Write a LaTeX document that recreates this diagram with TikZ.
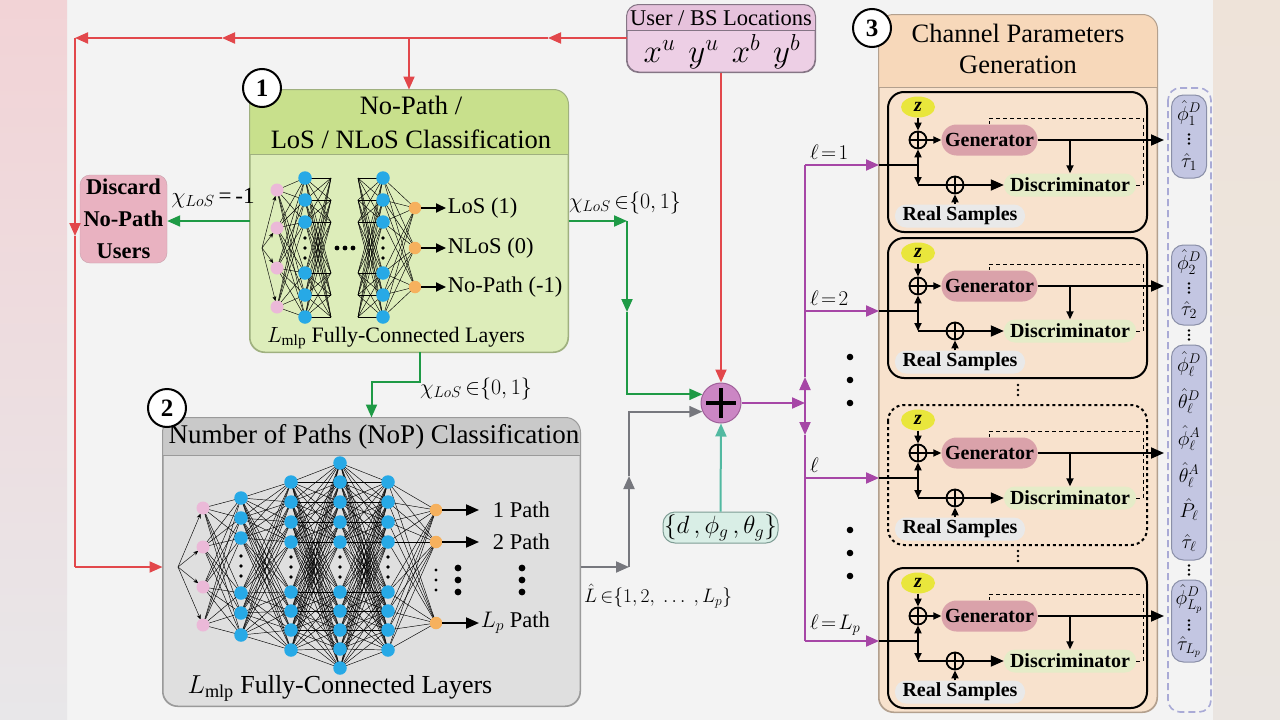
\RequirePackage{fix-cm}
\documentclass[tikz,border=0pt]{standalone}
\usepackage{fontspec}
\setmainfont{Liberation Serif}
\usetikzlibrary{arrows.meta,shapes.geometric,calc}
\definecolor{bgmain}{HTML}{F3F3F3}
\definecolor{leftTop}{HTML}{F2D3D6}
\definecolor{leftBot}{HTML}{E8E7E9}
\definecolor{rightTop}{HTML}{EEE3D9}
\definecolor{rightBot}{HTML}{EAE5E1}
\definecolor{redl}{HTML}{E2474B}
\definecolor{greenl}{HTML}{1E9A45}
\definecolor{grayl}{HTML}{76777D}
\definecolor{teall}{HTML}{52B9A1}
\definecolor{purpl}{HTML}{A646A6}
\definecolor{b1head}{HTML}{C8E08C}
\definecolor{b1body}{HTML}{DDEDBA}
\definecolor{b1edge}{HTML}{9FB07F}
\definecolor{b2head}{HTML}{C9C9C9}
\definecolor{b2body}{HTML}{DFDFDF}
\definecolor{b2edge}{HTML}{9A9A9A}
\definecolor{ushead}{HTML}{E6C2DC}
\definecolor{usbody}{HTML}{EDCFE5}
\definecolor{usedge}{HTML}{857585}
\definecolor{discfill}{HTML}{E9B2C1}
\definecolor{discedge}{HTML}{C9A0AB}
\definecolor{cphead}{HTML}{F7D8BA}
\definecolor{cpbody}{HTML}{F8E2CD}
\definecolor{cpedge}{HTML}{B3A08E}
\definecolor{nnpink}{HTML}{EBB9D8}
\definecolor{nnblue}{HTML}{27A9E6}
\definecolor{nnorange}{HTML}{F6B15E}
\definecolor{genfill}{HTML}{DAA2AA}
\definecolor{disfill}{HTML}{E5ECC8}
\definecolor{realfill}{HTML}{E9E9E9}
\definecolor{zfill}{HTML}{E9E63C}
\definecolor{capfill}{HTML}{C3C6E2}
\definecolor{capedge}{HTML}{8A8FA8}
\definecolor{outdash}{HTML}{A9AAD6}
\definecolor{plusfill}{HTML}{CB86C4}
\definecolor{plusedge}{HTML}{A0609A}
\definecolor{dfill}{HTML}{D9EEE6}
\definecolor{dedge}{HTML}{7E9C94}
\tikzset{
  bigtip/.tip={Triangle[length=13pt,width=11pt]},
  smalltip/.tip={Triangle[length=8pt,width=7pt]},
  midtip/.tip={Triangle[length=10pt,width=9pt]},
  redln/.style={draw=redl,line width=2pt},
  greenln/.style={draw=greenl,line width=2pt},
  grayln/.style={draw=grayl,line width=2pt},
  tealln/.style={draw=teall,line width=2pt},
  purpln/.style={draw=purpl,line width=2pt},
  nnline/.style={draw=black,line width=0.45pt},
  pinkn/.style={circle,fill=nnpink,minimum size=13,inner sep=0},
  bluen/.style={circle,fill=nnblue,minimum size=13.5,inner sep=0},
  orangen/.style={circle,fill=nnorange,minimum size=12.5,inner sep=0},
  numc/.style={circle,draw=black,line width=2pt,fill=white,minimum size=38,inner sep=0,font=\bfseries\fontsize{25}{25}\selectfont},
  ganln/.style={draw=black,line width=1.8pt},
  gandash/.style={draw=black,line width=1pt,dash pattern=on 4pt off 3pt},
  ganborder/.style={draw=black,line width=2pt,rounded corners=16},
  oplusn/.style={circle,draw=black,line width=1.8pt,minimum size=17,inner sep=0},
  zell/.style={ellipse,fill=zfill,minimum width=34,minimum height=21,inner sep=0,font=\bfseries\itshape\fontsize{20}{20}\selectfont},
  genbox/.style={rounded corners=15,fill=genfill,minimum width=96,minimum height=31,inner sep=0,font=\bfseries\fontsize{20}{22}\selectfont},
  disbox/.style={rounded corners=11,fill=disfill,minimum width=132,minimum height=23,inner sep=0,font=\bfseries\fontsize{20}{22}\selectfont},
  realbox/.style={rounded corners=11,fill=realfill,minimum width=130,minimum height=23,inner sep=0,font=\bfseries\fontsize{20}{22}\selectfont},
  capsule/.style={draw=capedge,fill=capfill,rounded corners=12,minimum width=35,inner sep=0,line width=1pt},
  capt/.style={inner sep=0,font=\fontsize{20}{20}\selectfont},
  lab/.style={inner sep=1,font=\fontsize{22.5}{24}\selectfont},
}
\newcommand\vdotsat[3]{\fill (#1,#2-#3) circle (1.3) (#1,#2) circle (1.3) (#1,#2+#3) circle (1.3);}
\begin{document}
\begin{tikzpicture}[x=1pt,y=-1pt]
% background
\fill[bgmain] (0,0) rectangle (1280,720);
\shade[top color=leftTop,bottom color=leftBot] (0,0) rectangle (67,720);
\shade[top color=rightTop,bottom color=rightBot] (1213,0) rectangle (1280,720);
\useasboundingbox (0,0) rectangle (1280,720);

% ---------- User / BS box
\node[draw=usedge,fill=usbody,rounded corners=12,minimum width=188,minimum height=67,inner sep=0,line width=1pt] (user) at (721,38.5) {};
\begin{scope}
\clip[rounded corners=12] (user.south west) rectangle (user.north east);
\fill[ushead] (user.north west) rectangle ($(user.north east)+(0,26)$);
\end{scope}
\draw[usedge,line width=1pt] ($(user.north west)+(0,26)$) -- ($(user.north east)+(0,26)$);
\draw[usedge,line width=1pt,rounded corners=12] (user.south west) rectangle (user.north east);
\node[inner sep=0,font=\fontsize{22.5}{24}\selectfont] (usert) at (721,18) {User / BS Locations};
\node[inner sep=0,font=\fontsize{33}{33}\selectfont] (userm) at (722,52) {$x^u\hspace{13pt}y^u\hspace{13pt}x^b\hspace{13pt}y^b$};

% ---------- Box 1
\node[draw=b1edge,fill=b1body,rounded corners=15,minimum width=318,minimum height=262,inner sep=0,line width=1pt] (box1) at (409,221) {};
\begin{scope}
\clip[rounded corners=15] (box1.south west) rectangle (box1.north east);
\fill[b1head] (box1.north west) rectangle ($(box1.north east)+(0,65)$);
\end{scope}
\draw[b1edge,line width=1pt] ($(box1.north west)+(0,65)$) -- ($(box1.north east)+(0,65)$);
\draw[b1edge,line width=1pt,rounded corners=15] (box1.south west) rectangle (box1.north east);
\node[align=center,inner sep=0,font=\fontsize{26.5}{34}\selectfont] (t1) at (411,122) {No-Path /\\LoS / NLoS Classification};

% net 1
\coordinate (fan1) at (262,248);
\foreach \y [count=\k] in {190,228,268,307} \coordinate (ip\k) at (277,\y);
\foreach \y [count=\k] in {178,200,222,273,295,317} {
  \coordinate (ha\k) at (305,\y); \coordinate (hb\k) at (331,\y);
  \coordinate (hc\k) at (358,\y); \coordinate (hd\k) at (383,\y); }
\foreach \y [count=\k] in {208,248,287} \coordinate (oo\k) at (415,\y);
\foreach \a in {1,...,4} \foreach \b in {1,...,6} \draw[nnline] (ip\a) -- (ha\b);
\foreach \a in {1,...,6} \foreach \b in {1,...,6} { \draw[nnline] (ha\a) -- (hb\b); \draw[nnline] (hc\a) -- (hd\b); }
\foreach \a in {1,...,6} \foreach \b in {1,2,3} \draw[nnline] (hd\a) -- (oo\b);
\foreach \k in {1,...,4} \draw[nnline,-{Stealth[length=5pt,width=4pt]},shorten >=6pt] (fan1) -- (ip\k);
\foreach \k in {1,...,4} \node[pinkn] (nip\k) at (ip\k) {};
\foreach \k in {1,...,6} { \node[bluen] (nha\k) at (ha\k) {}; \node[bluen] (nhd\k) at (hd\k) {}; }
\foreach \k in {1,2,3} \node[orangen] (noo\k) at (oo\k) {};
\foreach \yy in {238,248,258} { \fill (305,\yy) circle (1.8); \fill (383,\yy) circle (1.8); }
\foreach \xx in {337,345,353} \fill (\xx,248) circle (2.4);
\draw[line width=1.8pt,-midtip] (noo1.east) -- (446,208) node[lab,anchor=west] (lb1) {LoS (1)};
\draw[line width=1.8pt,-midtip] (noo2.east) -- (446,248) node[lab,anchor=west] (lb2) {NLoS (0)};
\draw[line width=1.8pt,-midtip] (noo3.east) -- (446,287) node[lab,anchor=west] (lb3) {No-Path (-1)};
\node[inner sep=0,font=\fontsize{22}{24}\selectfont] (fc1) at (396,338) {$L_{\mathrm{mlp}}$ Fully-Connected Layers};

% ---------- Box 2
\node[draw=b2edge,fill=b2body,rounded corners=15,minimum width=417,minimum height=288,inner sep=0,line width=1pt] (box2) at (371.5,562) {};
\begin{scope}
\clip[rounded corners=15] (box2.south west) rectangle (box2.north east);
\fill[b2head] (box2.north west) rectangle ($(box2.north east)+(0,38)$);
\end{scope}
\draw[b2edge,line width=1pt] ($(box2.north west)+(0,38)$) -- ($(box2.north east)+(0,38)$);
\draw[b2edge,line width=1pt,rounded corners=15] (box2.south west) rectangle (box2.north east);
\node[inner sep=0,font=\fontsize{27}{28}\selectfont] (t2) at (374,437) {Number of Paths (NoP) Classification};

% net 2
\coordinate (fan2) at (178,567);
\foreach \y [count=\k] in {508,547,587,625} \coordinate (qp\k) at (203,\y);
\foreach \y [count=\k] in {498,518,538,593,613,635} \coordinate (qa\k) at (241,\y);
\foreach \y [count=\k] in {482,502,522,542,592,611,630,650} { \coordinate (qb\k) at (291,\y); \coordinate (qd\k) at (388,\y); }
\foreach \y [count=\k] in {463,482,502,522,542,592,611,630,649,668} \coordinate (qc\k) at (340,\y);
\foreach \y [count=\k] in {510,542,623} \coordinate (qo\k) at (436,\y);
\foreach \a in {1,...,4} \foreach \b in {1,...,6} \draw[nnline] (qp\a) -- (qa\b);
\foreach \a in {1,...,6} \foreach \b in {1,...,8} \draw[nnline] (qa\a) -- (qb\b);
\foreach \a in {1,...,8} \foreach \b in {1,...,10} { \draw[nnline] (qb\a) -- (qc\b); \draw[nnline] (qd\a) -- (qc\b); }
\foreach \a in {1,...,8} \foreach \b in {1,2,3} \draw[nnline] (qd\a) -- (qo\b);
\foreach \k in {1,...,4} \draw[nnline,-{Stealth[length=5pt,width=4pt]},shorten >=6pt] (fan2) -- (qp\k);
\foreach \k in {1,...,4} \node[pinkn] (nqp\k) at (qp\k) {};
\foreach \k in {1,...,6} \node[bluen] (nqa\k) at (qa\k) {};
\foreach \k in {1,...,8} { \node[bluen] (nqb\k) at (qb\k) {}; \node[bluen] (nqd\k) at (qd\k) {}; }
\foreach \k in {1,...,10} \node[bluen] (nqc\k) at (qc\k) {};
\foreach \k in {1,2,3} \node[orangen] (nqo\k) at (qo\k) {};
\foreach \yy in {556,566,576} \fill (241,\yy) circle (1.8);
\foreach \yy in {557,567,577} { \fill (291,\yy) circle (1.8); \fill (340,\yy) circle (1.8); \fill (388,\yy) circle (1.8); }
\foreach \yy in {570,580,590} \fill (436,\yy) circle (1.6);
\foreach \yy in {568,580,592} { \fill (458,\yy) circle (3.4); \fill (522,\yy) circle (3.4); }
\draw[line width=2pt,-bigtip] (nqo1.east) -- (479,510);
\draw[line width=2pt,-bigtip] (nqo2.east) -- (479,542);
\draw[line width=2pt,-bigtip] (nqo3.east) -- (479,623);
\node[lab,anchor=east] (p1) at (551,510) {1 Path};
\node[lab,anchor=east] (p2) at (551,542) {2 Path};
\node[lab,anchor=east] (p3) at (551,623) {$L_p$ Path};
\node[inner sep=0,font=\fontsize{26}{28}\selectfont] (fc2) at (340,688) {$L_{\mathrm{mlp}}$ Fully-Connected Layers};

% ---------- Discard box
\node[draw=discedge,fill=discfill,rounded corners=10,minimum width=87,minimum height=88,inner sep=0,align=center,font=\bfseries\fontsize{22.5}{32}\selectfont] (discard) at (123.5,219) {Discard\\No-Path\\Users};

% ---------- plus and parameter set
\node[circle,draw=plusedge,fill=plusfill,minimum size=40,inner sep=0,line width=1pt] (plus) at (721,403) {};
\draw[line width=4.5pt] ($(plus.center)+(-15,0)$) -- ($(plus.center)+(15,0)$);
\draw[line width=4.5pt] ($(plus.center)+(0,-15)$) -- ($(plus.center)+(0,15)$);
\node[draw=dedge,fill=dfill,rounded corners=12,minimum width=115,minimum height=31,inner sep=0,line width=1pt,font=\fontsize{25}{25}\selectfont] (dset) at (720.5,527.5) {$\{d\,,\phi_g\,,\theta_g\}$};

% ---------- red connectors
\coordinate (r1) at (548,38);
\coordinate (r2) at (222,38);
\coordinate (rc) at (75,38);
\coordinate (r3) at (75,236);
\coordinate (rb) at (75,567);
\draw[redln,-bigtip] (user.west |- rc) -- (r1);
\draw[redln,-bigtip] (r1) -- (r2);
\draw[redln,-bigtip] (r2) -- (rc);
\draw[redln,-bigtip] (rc) -- (r3);
\draw[redln] (r3) -- (rb);
\draw[redln,-bigtip] (rb) -- (box2.west |- rb);
\draw[redln,-bigtip] (box1.north |- rc) -- (box1.north);
\draw[redln,-bigtip] (user.south) -- (plus.north);

% ---------- green connectors
\coordinate (g1) at (627,221);
\coordinate (g2) at (627,312);
\draw[greenln,-bigtip] (box1.west) -- (discard.east |- box1.west);
\draw[greenln,-bigtip] (box1.east) -- (g1);
\draw[greenln,-bigtip] (g1) -- (g2);
\draw[greenln,-bigtip] (g2) |- (plus.155);
\coordinate (gb) at (420,352);
\draw[greenln,-bigtip] (gb) -- ++(0,30) -| (box2.north);

% ---------- gray connectors
\coordinate (q1) at (629,567);
\coordinate (q2) at (629,476);
\draw[grayln,-bigtip] (box2.east |- q1) -- (q1);
\draw[grayln,-bigtip] (q1) -- (q2);
\draw[grayln,-bigtip] (q2) |- (plus.205);

% ---------- teal
\draw[tealln,-bigtip] (dset.north) -- (plus.south);

% ---------- labels on connectors
\node[inner sep=0,font=\fontsize{23}{24}\selectfont] (chi1) at (213,198) {$\chi_{LoS}$\,=\,-1};
\node[inner sep=0,font=\fontsize{22}{24}\selectfont] (chi2) at (625,203) {$\chi_{LoS}\,{\in}\{0,1\}$};
\node[inner sep=0,font=\fontsize{22}{24}\selectfont] (chi3) at (476,389) {$\chi_{LoS}\,{\in}\{0,1\}$};
\node[inner sep=0,anchor=west,font=\fontsize{19.5}{22}\selectfont] (lhat) at (584,596) {$\hat{L}\,{\in}\{1,2,\ \dots\ ,L_p\}$};

% ---------- container 3
\node[draw=cpedge,fill=cpbody,rounded corners=15,minimum width=278,minimum height=697,inner sep=0,line width=1pt] (cont) at (1018,363.5) {};
\begin{scope}
\clip[rounded corners=15] (cont.south west) rectangle (cont.north east);
\fill[cphead] (cont.north west) rectangle ($(cont.north east)+(0,73)$);
\end{scope}
\draw[cpedge,line width=1pt] ($(cont.north west)+(0,73)$) -- ($(cont.north east)+(0,73)$);
\draw[cpedge,line width=1pt,rounded corners=15] (cont.south west) rectangle (cont.north east);
\node[align=center,inner sep=0,font=\fontsize{26.5}{31}\selectfont] (t3) at (1018,49) {Channel Parameters\\Generation};

% GAN blocks
\foreach \i/\o/\st in {1/0/solid,2/146/solid,3/313/dashed,4/476/solid}{
\begin{scope}[shift={(0,\o)}]
  \draw[ganborder,\st] (888,92) rectangle (1147,232);
  \node[zell] (z\i) at (918,107) {z};
  \node[oplusn] (oa\i) at (918,140) {};
  \node[genbox] (gen\i) at (989.5,140) {Generator};
  \node[oplusn] (ob\i) at (955,185) {};
  \node[disbox] (dis\i) at (1070,185) {Discriminator};
  \node[realbox] (real\i) at (960,216) {Real Samples};
  \coordinate (in\i) at (879,165);
  \coordinate (jn\i) at (918,165);
  \coordinate (dd\i) at (918,185);
  \coordinate (tap\i) at (1070,140);
  \coordinate (out\i) at (1164,140);
  \draw[ganln] (oa\i.north) -- (oa\i.south) (oa\i.west) -- (oa\i.east);
  \draw[ganln] (ob\i.north) -- (ob\i.south) (ob\i.west) -- (ob\i.east);
  \draw[ganln,-smalltip] (z\i.south) -- (oa\i.north);
  \draw[ganln,-smalltip] (oa\i.east) -- (gen\i.west);
  \draw[ganln,-bigtip] (gen\i.east) -- (out\i);
  \draw[ganln,-smalltip] (tap\i) -- (dis\i.north);
  \draw[ganln] (in\i) -- (jn\i);
  \draw[ganln,-smalltip] (jn\i) -- (oa\i.south);
  \draw[ganln,-smalltip] (jn\i) -- (dd\i);
  \draw[ganln] (dd\i) -- (ob\i.west);
  \draw[ganln,-bigtip] (ob\i.east) -- (dis\i.west);
  \draw[ganln,-smalltip] (ob\i.south |- real\i.north) -- (ob\i.south);
  \draw[gandash] (dis\i.east) -- (1143,185) -- (1143,118) -- (989,118) -- (989,124);
\end{scope}
}
\vdotsat{1018}{390}{5}
\vdotsat{1018}{556}{5}

% ---------- purple distribution
\coordinate (pv) at (805,403);
\coordinate (pu) at (805,377);
\coordinate (pd) at (805,435);
\coordinate (pt) at (805,165);
\coordinate (pb) at (805,641);
\draw[purpln,-bigtip] (plus.east) -- (pv);
\draw[purpln,-bigtip] (pv) -- (pu);
\draw[purpln] (pu) -- (pt);
\draw[purpln,-bigtip] (pv) -- (pd);
\draw[purpln] (pd) -- (pb);
\draw[purpln,-bigtip] (pt) -- (in1);
\draw[purpln,-bigtip] (pt |- in2) -- (in2);
\draw[purpln,-bigtip] (pt |- in3) -- (in3);
\draw[purpln,-bigtip] (pb) -- (in4);
\node[anchor=south west,inner sep=1,font=\fontsize{21}{22}\selectfont] (l1) at (809,161) {$\ell\!=\!1$};
\node[anchor=south west,inner sep=1,font=\fontsize{21}{22}\selectfont] (l2) at (809,307) {$\ell\!=\!2$};
\node[anchor=south west,inner sep=1,font=\fontsize{21}{22}\selectfont] (l3) at (809,474) {$\ell$};
\node[anchor=south west,inner sep=1,font=\fontsize{21}{22}\selectfont] (l4) at (809,637) {$\ell\!=\!L_p$};
\foreach \yy in {357,380,403,530,553,576} \fill (850,\yy) circle (3.3);

% ---------- output column
\draw[outdash,dash pattern=on 7pt off 4pt,line width=1.6pt,rounded corners=12] (1168,88) rectangle (1211,712);
\node[capsule,minimum height=83] (c1) at (1189,136.5) {};
\node[capsule,minimum height=80] (c2) at (1189,285) {};
\node[capsule,minimum height=215] (c3) at (1189,452.5) {};
\node[capsule,minimum height=82] (c4) at (1189,621) {};
\node[capt] (c1a) at (1189,113) {$\hat{\phi}^{D}_{1}$};
\vdotsat{1189}{139}{4.5}
\node[capt] (c1c) at (1189,162) {$\hat{\tau}_{1}$};
\node[capt] (c2a) at (1189,262) {$\hat{\phi}^{D}_{2}$};
\vdotsat{1189}{288}{4.5}
\node[capt] (c2c) at (1189,310) {$\hat{\tau}_{2}$};
\vdotsat{1189}{335}{4.5}
\node[capt] (c3a) at (1189,364) {$\hat{\phi}^{D}_{\ell}$};
\node[capt] (c3b) at (1189,401) {$\hat{\theta}^{D}_{\ell}$};
\node[capt] (c3c) at (1189,438) {$\hat{\phi}^{A}_{\ell}$};
\node[capt] (c3d) at (1189,475) {$\hat{\theta}^{A}_{\ell}$};
\node[capt] (c3e) at (1189,510) {$\hat{P}_{\ell}$};
\node[capt] (c3f) at (1189,543) {$\hat{\tau}_{\ell}$};
\vdotsat{1189}{570}{4.5}
\node[capt] (c4a) at (1189,599) {$\hat{\phi}^{D}_{L_p}$};
\vdotsat{1189}{625}{4.5}
\node[capt] (c4c) at (1189,647) {$\hat{\tau}_{L_p}$};

% ---------- number circles
\node[numc] (n1) at (262,88) {1};
\node[numc] (n2) at (167,408) {2};
\node[numc] (n3) at (872,28) {3};
\end{tikzpicture}
\end{document}
